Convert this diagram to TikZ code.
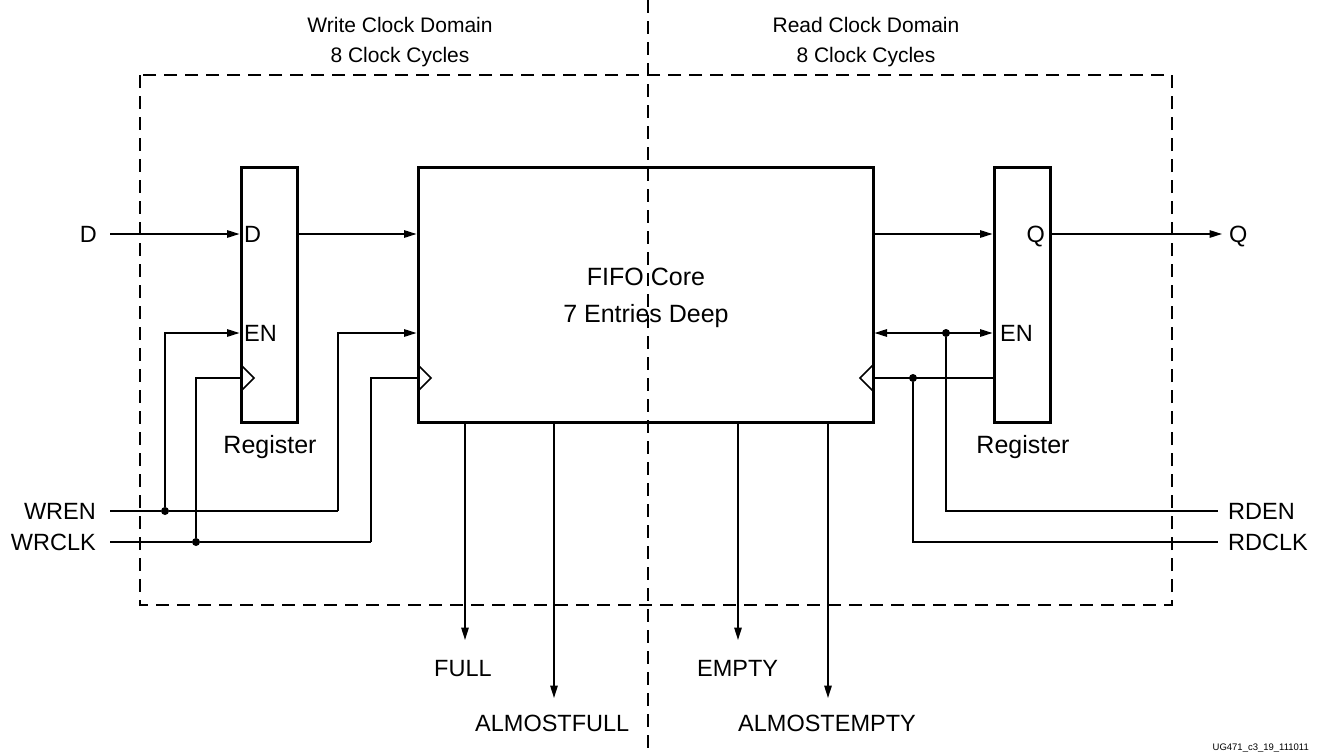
\documentclass[tikz,border=0pt]{standalone}
\usepackage{fontspec}
\setmainfont{Liberation Sans}
\usetikzlibrary{arrows.meta}
\begin{document}
\begin{tikzpicture}[x=1pt,y=-1pt,
  box/.style={draw, line width=3pt, rectangle, inner sep=0pt, minimum height=255pt},
  sig/.style={line width=1.5pt},
  arr/.style={sig, -{Triangle[length=12.5pt,width=7.5pt]}},
  darr/.style={sig, {Triangle[length=12.5pt,width=7.5pt]}-{Triangle[length=12.5pt,width=7.5pt]}},
  domainline/.style={line width=2.6pt, dash pattern=on 13pt off 8pt},
  pin/.style={font=\fontsize{23.5}{27}\selectfont, inner sep=0pt},
  ttl/.style={font=\fontsize{21}{25}\selectfont, inner sep=0pt, anchor=base},
  core/.style={font=\fontsize{25}{29}\selectfont, inner sep=0pt, anchor=base},
  reglbl/.style={font=\fontsize{25}{29}\selectfont, inner sep=0pt, anchor=base},
  dot/.style={circle, fill, inner sep=0pt, minimum size=8pt},
  clk/.style={line width=1.5pt}
]
\useasboundingbox (0,0) rectangle (1322,755);

% domain boundaries
\draw[domainline] (140,75) rectangle (1172,605);
\draw[domainline] (648,0) -- (648,755);

% titles
\node[ttl] (wt1) at (400,32) {Write Clock Domain};
\node[ttl] (wt2) at (400,62) {8 Clock Cycles};
\node[ttl] (rt1) at (866,32) {Read Clock Domain};
\node[ttl] (rt2) at (866,62) {8 Clock Cycles};

% blocks
\node[box, minimum width=56pt, fill=white] (lreg) at (269,294.5) {};
\node[box, minimum width=455pt] (fifo) at (645.5,294.5) {};
\node[box, minimum width=56pt] (rreg) at (1022,294.5) {};

\node[core] (fc1) at (646,285.5) {FIFO Core};
\node[core] (fc2) at (646,322.5) {7 Entries Deep};
\node[reglbl] (lrl) at (270,453) {Register};
\node[reglbl] (rrl) at (1023,453) {Register};

% pin labels inside registers
\node[pin, anchor=base west] (lD) at (244,242.5) {D};
\node[pin, anchor=base west] (lEN) at (244,341.5) {EN};
\node[pin, anchor=base east] (rQ) at (1045,242.5) {Q};
\node[pin, anchor=base west] (rEN) at (1000,341.5) {EN};

% outer labels
\node[pin, anchor=base east] (Dlbl) at (97,242.5) {D};
\node[pin, anchor=base east] (WRENlbl) at (96,519) {WREN};
\node[pin, anchor=base east] (WRCLKlbl) at (96,550) {WRCLK};
\node[pin, anchor=base west] (Qlbl) at (1229,242.5) {Q};
\node[pin, anchor=base west] (RDENlbl) at (1228,519) {RDEN};
\node[pin, anchor=base west] (RDCLKlbl) at (1228,550) {RDCLK};
\node[pin, anchor=base west] (FULLlbl) at (434,676) {FULL};
\node[pin, anchor=base west] (AFlbl) at (475,731.5) {ALMOSTFULL};
\node[pin, anchor=base west] (EMPTYlbl) at (697,676) {EMPTY};
\node[pin, anchor=base west] (AElbl) at (738,731.5) {ALMOSTEMPTY};
\node[font=\fontsize{9.5}{11}\selectfont, inner sep=0pt, anchor=base east] (ug) at (1309,750) {UG471\_c3\_19\_111011};

% coordinates
\coordinate (dIn) at (110,234);
\coordinate (en) at (0,333);
\coordinate (ck) at (0,378);
\coordinate (wrenIn) at (110,511);
\coordinate (wrclkIn) at (110,542);
\coordinate (wrenT) at (338,511);
\coordinate (wrclkT) at (371,542);
\coordinate (qOut) at (1222,234);
\coordinate (rdenOut) at (1218,511);
\coordinate (rdclkOut) at (1218,542);
\coordinate (fullT) at (465,640);
\coordinate (afT) at (554,698);
\coordinate (emptyT) at (738,640);
\coordinate (aeT) at (828,698);

% junction dots
\node[dot] (wj) at (165,511) {};
\node[dot] (cj) at (196,542) {};
\node[dot] (rj) at (946,333) {};
\node[dot] (rcj) at (913,378) {};

% data path
\draw[arr] (dIn) -- (lreg.west |- dIn);
\draw[arr] (lreg.east |- dIn) -- (fifo.west |- dIn);
\draw[arr] (fifo.east |- dIn) -- (rreg.west |- dIn);
\draw[arr] (rreg.east |- dIn) -- (qOut);

% write side
\draw[sig] (wrenIn) -- (wj) -- (wrenT);
\draw[arr] (wrenT) -- (wrenT |- en) -- (fifo.west |- en);
\draw[arr] (wj) -- (wj |- en) -- (lreg.west |- en);
\draw[sig] (wrclkIn) -- (cj) -- (wrclkT);
\draw[sig] (wrclkT) -- (wrclkT |- ck) -- (fifo.west |- ck);
\draw[sig] (cj) -- (cj |- ck) -- (lreg.west |- ck);
\draw[clk] (241,365) -- (254,378) -- (241,391);
\draw[clk] (418,365) -- (431,378) -- (418,391);

% read side
\draw[darr] (fifo.east |- en) -- (rreg.west |- en);
\draw[sig] (rj) -- (rj |- rdenOut) -- (rdenOut);
\draw[sig] (fifo.east |- ck) -- (rreg.west |- ck);
\draw[sig] (rcj) -- (rcj |- rdclkOut) -- (rdclkOut);
\draw[clk] (873,365) -- (860,378) -- (873,391);

% status flags
\draw[arr] (fifo.south -| fullT) -- (fullT);
\draw[arr] (fifo.south -| afT) -- (afT);
\draw[arr] (fifo.south -| emptyT) -- (emptyT);
\draw[arr] (fifo.south -| aeT) -- (aeT);
\end{tikzpicture}
\end{document}
